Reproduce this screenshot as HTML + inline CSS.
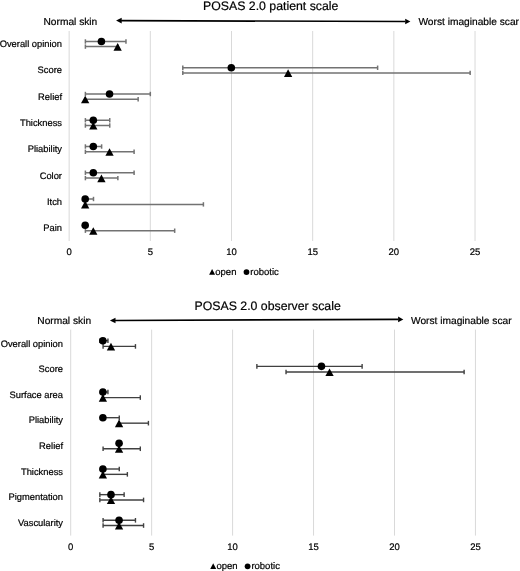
<!DOCTYPE html>
<html><head><meta charset="utf-8"><style>
html,body{margin:0;padding:0;background:#fff;}
body{width:520px;height:571px;overflow:hidden;}
svg{display:block;}
svg{will-change:transform;filter:blur(0.35px);}
text{font-family:"Liberation Sans",sans-serif;fill:#000;stroke:#000;stroke-width:0.2px;text-rendering:geometricPrecision;}
.ti{font-size:12.3px;}
.en{font-size:10.2px;}
.lab{font-size:9.35px;}
.ax{font-size:9.5px;}
.lg{font-size:9.5px;}
</style></head><body>
<svg width="520" height="571" viewBox="0 0 520 571">
<rect width="520" height="571" fill="#fff"/>
<line x1="69.15" y1="31" x2="69.15" y2="241" stroke="#d9d9d9" stroke-width="1"/>
<text x="69.15" y="255.3" text-anchor="middle" class="ax">0</text>
<line x1="150.32" y1="31" x2="150.32" y2="241" stroke="#d9d9d9" stroke-width="1"/>
<text x="150.32" y="255.3" text-anchor="middle" class="ax">5</text>
<line x1="231.50" y1="31" x2="231.50" y2="241" stroke="#d9d9d9" stroke-width="1"/>
<text x="231.50" y="255.3" text-anchor="middle" class="ax">10</text>
<line x1="312.67" y1="31" x2="312.67" y2="241" stroke="#d9d9d9" stroke-width="1"/>
<text x="312.67" y="255.3" text-anchor="middle" class="ax">15</text>
<line x1="393.85" y1="31" x2="393.85" y2="241" stroke="#d9d9d9" stroke-width="1"/>
<text x="393.85" y="255.3" text-anchor="middle" class="ax">20</text>
<line x1="475.02" y1="31" x2="475.02" y2="241" stroke="#d9d9d9" stroke-width="1"/>
<text x="475.02" y="255.3" text-anchor="middle" class="ax">25</text>
<text x="203" y="9.6" class="ti">POSAS 2.0 patient scale</text>
<line x1="121.1" y1="20.6" x2="405.4" y2="21.5" stroke="#000" stroke-width="1.7"/>
<path d="M116.1,20.6 l5.6,-2.8 l0,5.6 z" fill="#000"/>
<path d="M410.4,21.5 l-5.2,-2.8 l0,5.6 z" fill="#000"/>
<text x="43.5" y="24.6" class="en">Normal skin</text>
<text x="418.4" y="25.0" class="en">Worst imaginable scar</text>
<text x="62.0" y="47.10" text-anchor="end" class="lab">Overall opinion</text>
<line x1="85.39" y1="41.50" x2="125.97" y2="41.50" stroke="#727272" stroke-width="1.5"/>
<line x1="85.39" y1="39.30" x2="85.39" y2="43.70" stroke="#727272" stroke-width="1.5"/>
<line x1="125.97" y1="39.30" x2="125.97" y2="43.70" stroke="#727272" stroke-width="1.5"/>
<line x1="85.39" y1="46.60" x2="117.86" y2="46.60" stroke="#727272" stroke-width="1.5"/>
<line x1="85.39" y1="44.40" x2="85.39" y2="48.80" stroke="#727272" stroke-width="1.5"/>
<line x1="117.86" y1="44.40" x2="117.86" y2="48.80" stroke="#727272" stroke-width="1.5"/>
<circle cx="101.42" cy="41.50" r="3.8" fill="#000"/>
<path d="M117.66,43.05 L121.81,50.65 L113.50,50.65 Z" fill="#000"/>
<text x="62.0" y="73.40" text-anchor="end" class="lab">Score</text>
<line x1="182.80" y1="67.75" x2="377.62" y2="67.75" stroke="#727272" stroke-width="1.5"/>
<line x1="182.80" y1="65.55" x2="182.80" y2="69.95" stroke="#727272" stroke-width="1.5"/>
<line x1="377.62" y1="65.55" x2="377.62" y2="69.95" stroke="#727272" stroke-width="1.5"/>
<line x1="182.80" y1="72.90" x2="470.15" y2="72.90" stroke="#727272" stroke-width="1.5"/>
<line x1="182.80" y1="70.70" x2="182.80" y2="75.10" stroke="#727272" stroke-width="1.5"/>
<line x1="470.15" y1="70.70" x2="470.15" y2="75.10" stroke="#727272" stroke-width="1.5"/>
<circle cx="231.30" cy="67.75" r="3.8" fill="#000"/>
<path d="M288.12,69.35 L292.27,76.95 L283.97,76.95 Z" fill="#000"/>
<text x="62.0" y="99.70" text-anchor="end" class="lab">Relief</text>
<line x1="85.39" y1="94.00" x2="150.32" y2="94.00" stroke="#727272" stroke-width="1.5"/>
<line x1="85.39" y1="91.80" x2="85.39" y2="96.20" stroke="#727272" stroke-width="1.5"/>
<line x1="150.32" y1="91.80" x2="150.32" y2="96.20" stroke="#727272" stroke-width="1.5"/>
<line x1="85.39" y1="99.20" x2="138.15" y2="99.20" stroke="#727272" stroke-width="1.5"/>
<line x1="85.39" y1="97.00" x2="85.39" y2="101.40" stroke="#727272" stroke-width="1.5"/>
<line x1="138.15" y1="97.00" x2="138.15" y2="101.40" stroke="#727272" stroke-width="1.5"/>
<circle cx="109.54" cy="94.00" r="3.8" fill="#000"/>
<path d="M85.19,95.65 L89.34,103.25 L81.03,103.25 Z" fill="#000"/>
<text x="62.0" y="126.00" text-anchor="end" class="lab">Thickness</text>
<line x1="85.39" y1="120.25" x2="109.74" y2="120.25" stroke="#727272" stroke-width="1.5"/>
<line x1="85.39" y1="118.05" x2="85.39" y2="122.45" stroke="#727272" stroke-width="1.5"/>
<line x1="109.74" y1="118.05" x2="109.74" y2="122.45" stroke="#727272" stroke-width="1.5"/>
<line x1="85.39" y1="125.50" x2="109.74" y2="125.50" stroke="#727272" stroke-width="1.5"/>
<line x1="85.39" y1="123.30" x2="85.39" y2="127.70" stroke="#727272" stroke-width="1.5"/>
<line x1="109.74" y1="123.30" x2="109.74" y2="127.70" stroke="#727272" stroke-width="1.5"/>
<circle cx="93.30" cy="120.25" r="3.8" fill="#000"/>
<path d="M93.30,121.95 L97.45,129.55 L89.15,129.55 Z" fill="#000"/>
<text x="62.0" y="152.30" text-anchor="end" class="lab">Pliability</text>
<line x1="85.39" y1="146.50" x2="101.62" y2="146.50" stroke="#727272" stroke-width="1.5"/>
<line x1="85.39" y1="144.30" x2="85.39" y2="148.70" stroke="#727272" stroke-width="1.5"/>
<line x1="101.62" y1="144.30" x2="101.62" y2="148.70" stroke="#727272" stroke-width="1.5"/>
<line x1="85.39" y1="151.80" x2="134.09" y2="151.80" stroke="#727272" stroke-width="1.5"/>
<line x1="85.39" y1="149.60" x2="85.39" y2="154.00" stroke="#727272" stroke-width="1.5"/>
<line x1="134.09" y1="149.60" x2="134.09" y2="154.00" stroke="#727272" stroke-width="1.5"/>
<circle cx="93.30" cy="146.50" r="3.8" fill="#000"/>
<path d="M109.54,148.25 L113.69,155.85 L105.39,155.85 Z" fill="#000"/>
<text x="62.0" y="178.60" text-anchor="end" class="lab">Color</text>
<line x1="85.39" y1="172.75" x2="134.09" y2="172.75" stroke="#727272" stroke-width="1.5"/>
<line x1="85.39" y1="170.55" x2="85.39" y2="174.95" stroke="#727272" stroke-width="1.5"/>
<line x1="134.09" y1="170.55" x2="134.09" y2="174.95" stroke="#727272" stroke-width="1.5"/>
<line x1="85.39" y1="178.10" x2="117.86" y2="178.10" stroke="#727272" stroke-width="1.5"/>
<line x1="85.39" y1="175.90" x2="85.39" y2="180.30" stroke="#727272" stroke-width="1.5"/>
<line x1="117.86" y1="175.90" x2="117.86" y2="180.30" stroke="#727272" stroke-width="1.5"/>
<circle cx="93.30" cy="172.75" r="3.8" fill="#000"/>
<path d="M101.42,174.55 L105.57,182.15 L97.27,182.15 Z" fill="#000"/>
<text x="62.0" y="204.90" text-anchor="end" class="lab">Itch</text>
<line x1="85.39" y1="199.00" x2="93.50" y2="199.00" stroke="#727272" stroke-width="1.5"/>
<line x1="85.39" y1="196.80" x2="85.39" y2="201.20" stroke="#727272" stroke-width="1.5"/>
<line x1="93.50" y1="196.80" x2="93.50" y2="201.20" stroke="#727272" stroke-width="1.5"/>
<line x1="85.39" y1="204.40" x2="203.41" y2="204.40" stroke="#727272" stroke-width="1.5"/>
<line x1="85.39" y1="202.20" x2="85.39" y2="206.60" stroke="#727272" stroke-width="1.5"/>
<line x1="203.41" y1="202.20" x2="203.41" y2="206.60" stroke="#727272" stroke-width="1.5"/>
<circle cx="85.19" cy="199.00" r="3.8" fill="#000"/>
<path d="M85.19,200.85 L89.34,208.45 L81.03,208.45 Z" fill="#000"/>
<text x="62.0" y="231.20" text-anchor="end" class="lab">Pain</text>
<line x1="85.39" y1="223.05" x2="85.39" y2="227.45" stroke="#727272" stroke-width="1.5"/>
<line x1="85.39" y1="223.05" x2="85.39" y2="227.45" stroke="#727272" stroke-width="1.5"/>
<line x1="85.39" y1="230.70" x2="174.68" y2="230.70" stroke="#727272" stroke-width="1.5"/>
<line x1="85.39" y1="228.50" x2="85.39" y2="232.90" stroke="#727272" stroke-width="1.5"/>
<line x1="174.68" y1="228.50" x2="174.68" y2="232.90" stroke="#727272" stroke-width="1.5"/>
<circle cx="85.19" cy="225.25" r="3.8" fill="#000"/>
<path d="M93.30,227.15 L97.45,234.75 L89.15,234.75 Z" fill="#000"/>
<path d="M212.10,269.00 L215.10,274.80 L209.10,274.80 Z" fill="#000"/>
<text x="215.3" y="274.6" class="lg">open</text>
<circle cx="246.50" cy="272.10" r="2.9" fill="#000"/>
<text x="250.3" y="274.6" class="lg">robotic</text>
<line x1="70.70" y1="329.6" x2="70.70" y2="535.6" stroke="#d9d9d9" stroke-width="1"/>
<text x="70.70" y="549.8" text-anchor="middle" class="ax">0</text>
<line x1="151.65" y1="329.6" x2="151.65" y2="535.6" stroke="#d9d9d9" stroke-width="1"/>
<text x="151.65" y="549.8" text-anchor="middle" class="ax">5</text>
<line x1="232.60" y1="329.6" x2="232.60" y2="535.6" stroke="#d9d9d9" stroke-width="1"/>
<text x="232.60" y="549.8" text-anchor="middle" class="ax">10</text>
<line x1="313.55" y1="329.6" x2="313.55" y2="535.6" stroke="#d9d9d9" stroke-width="1"/>
<text x="313.55" y="549.8" text-anchor="middle" class="ax">15</text>
<line x1="394.50" y1="329.6" x2="394.50" y2="535.6" stroke="#d9d9d9" stroke-width="1"/>
<text x="394.50" y="549.8" text-anchor="middle" class="ax">20</text>
<line x1="475.45" y1="329.6" x2="475.45" y2="535.6" stroke="#d9d9d9" stroke-width="1"/>
<text x="475.45" y="549.8" text-anchor="middle" class="ax">25</text>
<text x="194.5" y="309.9" class="ti">POSAS 2.0 observer scale</text>
<line x1="114.9" y1="320.5" x2="398.3" y2="319.4" stroke="#000" stroke-width="1.7"/>
<path d="M109.9,320.5 l5.6,-2.8 l0,5.6 z" fill="#000"/>
<path d="M403.3,319.4 l-5.2,-2.8 l0,5.6 z" fill="#000"/>
<text x="37.3" y="323.8" class="en">Normal skin</text>
<text x="411" y="323.9" class="en">Worst imaginable scar</text>
<text x="63.0" y="346.60" text-anchor="end" class="lab">Overall opinion</text>
<line x1="99.84" y1="340.70" x2="107.94" y2="340.70" stroke="#404040" stroke-width="1.4"/>
<line x1="99.84" y1="338.40" x2="99.84" y2="343.00" stroke="#404040" stroke-width="1.4"/>
<line x1="107.94" y1="338.40" x2="107.94" y2="343.00" stroke="#404040" stroke-width="1.4"/>
<line x1="103.08" y1="346.40" x2="135.46" y2="346.40" stroke="#404040" stroke-width="1.4"/>
<line x1="103.08" y1="344.10" x2="103.08" y2="348.70" stroke="#404040" stroke-width="1.4"/>
<line x1="135.46" y1="344.10" x2="135.46" y2="348.70" stroke="#404040" stroke-width="1.4"/>
<circle cx="102.88" cy="340.70" r="3.8" fill="#000"/>
<path d="M110.98,342.85 L115.13,350.45 L106.83,350.45 Z" fill="#000"/>
<text x="63.0" y="372.23" text-anchor="end" class="lab">Score</text>
<line x1="256.88" y1="366.36" x2="362.12" y2="366.36" stroke="#404040" stroke-width="1.4"/>
<line x1="256.88" y1="364.06" x2="256.88" y2="368.66" stroke="#404040" stroke-width="1.4"/>
<line x1="362.12" y1="364.06" x2="362.12" y2="368.66" stroke="#404040" stroke-width="1.4"/>
<line x1="286.03" y1="371.99" x2="464.12" y2="371.99" stroke="#404040" stroke-width="1.4"/>
<line x1="286.03" y1="369.69" x2="286.03" y2="374.29" stroke="#404040" stroke-width="1.4"/>
<line x1="464.12" y1="369.69" x2="464.12" y2="374.29" stroke="#404040" stroke-width="1.4"/>
<circle cx="321.45" cy="366.36" r="3.8" fill="#000"/>
<path d="M329.54,368.44 L333.69,376.04 L325.39,376.04 Z" fill="#000"/>
<text x="63.0" y="397.86" text-anchor="end" class="lab">Surface area</text>
<line x1="103.08" y1="392.02" x2="107.94" y2="392.02" stroke="#404040" stroke-width="1.4"/>
<line x1="103.08" y1="389.72" x2="103.08" y2="394.32" stroke="#404040" stroke-width="1.4"/>
<line x1="107.94" y1="389.72" x2="107.94" y2="394.32" stroke="#404040" stroke-width="1.4"/>
<line x1="103.08" y1="397.58" x2="140.32" y2="397.58" stroke="#404040" stroke-width="1.4"/>
<line x1="103.08" y1="395.28" x2="103.08" y2="399.88" stroke="#404040" stroke-width="1.4"/>
<line x1="140.32" y1="395.28" x2="140.32" y2="399.88" stroke="#404040" stroke-width="1.4"/>
<circle cx="102.88" cy="392.02" r="3.8" fill="#000"/>
<path d="M102.88,394.03 L107.03,401.63 L98.73,401.63 Z" fill="#000"/>
<text x="63.0" y="423.49" text-anchor="end" class="lab">Pliability</text>
<line x1="103.08" y1="417.68" x2="119.27" y2="417.68" stroke="#404040" stroke-width="1.4"/>
<line x1="103.08" y1="415.38" x2="103.08" y2="419.98" stroke="#404040" stroke-width="1.4"/>
<line x1="119.27" y1="415.38" x2="119.27" y2="419.98" stroke="#404040" stroke-width="1.4"/>
<line x1="119.27" y1="423.17" x2="148.41" y2="423.17" stroke="#404040" stroke-width="1.4"/>
<line x1="119.27" y1="420.87" x2="119.27" y2="425.47" stroke="#404040" stroke-width="1.4"/>
<line x1="148.41" y1="420.87" x2="148.41" y2="425.47" stroke="#404040" stroke-width="1.4"/>
<circle cx="102.88" cy="417.68" r="3.8" fill="#000"/>
<path d="M119.07,419.62 L123.22,427.22 L114.92,427.22 Z" fill="#000"/>
<text x="63.0" y="449.12" text-anchor="end" class="lab">Relief</text>
<line x1="119.27" y1="441.04" x2="119.27" y2="445.64" stroke="#404040" stroke-width="1.4"/>
<line x1="119.27" y1="441.04" x2="119.27" y2="445.64" stroke="#404040" stroke-width="1.4"/>
<line x1="103.08" y1="448.76" x2="140.32" y2="448.76" stroke="#404040" stroke-width="1.4"/>
<line x1="103.08" y1="446.46" x2="103.08" y2="451.06" stroke="#404040" stroke-width="1.4"/>
<line x1="140.32" y1="446.46" x2="140.32" y2="451.06" stroke="#404040" stroke-width="1.4"/>
<circle cx="119.07" cy="443.34" r="3.8" fill="#000"/>
<path d="M119.07,445.21 L123.22,452.81 L114.92,452.81 Z" fill="#000"/>
<text x="63.0" y="474.75" text-anchor="end" class="lab">Thickness</text>
<line x1="103.08" y1="469.00" x2="119.27" y2="469.00" stroke="#404040" stroke-width="1.4"/>
<line x1="103.08" y1="466.70" x2="103.08" y2="471.30" stroke="#404040" stroke-width="1.4"/>
<line x1="119.27" y1="466.70" x2="119.27" y2="471.30" stroke="#404040" stroke-width="1.4"/>
<line x1="103.08" y1="474.35" x2="127.37" y2="474.35" stroke="#404040" stroke-width="1.4"/>
<line x1="103.08" y1="472.05" x2="103.08" y2="476.65" stroke="#404040" stroke-width="1.4"/>
<line x1="127.37" y1="472.05" x2="127.37" y2="476.65" stroke="#404040" stroke-width="1.4"/>
<circle cx="102.88" cy="469.00" r="3.8" fill="#000"/>
<path d="M102.88,470.80 L107.03,478.40 L98.73,478.40 Z" fill="#000"/>
<text x="63.0" y="500.38" text-anchor="end" class="lab">Pigmentation</text>
<line x1="99.84" y1="494.66" x2="124.13" y2="494.66" stroke="#404040" stroke-width="1.4"/>
<line x1="99.84" y1="492.36" x2="99.84" y2="496.96" stroke="#404040" stroke-width="1.4"/>
<line x1="124.13" y1="492.36" x2="124.13" y2="496.96" stroke="#404040" stroke-width="1.4"/>
<line x1="99.84" y1="499.94" x2="143.56" y2="499.94" stroke="#404040" stroke-width="1.4"/>
<line x1="99.84" y1="497.64" x2="99.84" y2="502.24" stroke="#404040" stroke-width="1.4"/>
<line x1="143.56" y1="497.64" x2="143.56" y2="502.24" stroke="#404040" stroke-width="1.4"/>
<circle cx="110.98" cy="494.66" r="3.8" fill="#000"/>
<path d="M110.98,496.39 L115.13,503.99 L106.83,503.99 Z" fill="#000"/>
<text x="63.0" y="526.01" text-anchor="end" class="lab">Vascularity</text>
<line x1="103.08" y1="520.32" x2="135.46" y2="520.32" stroke="#404040" stroke-width="1.4"/>
<line x1="103.08" y1="518.02" x2="103.08" y2="522.62" stroke="#404040" stroke-width="1.4"/>
<line x1="135.46" y1="518.02" x2="135.46" y2="522.62" stroke="#404040" stroke-width="1.4"/>
<line x1="103.08" y1="525.53" x2="143.56" y2="525.53" stroke="#404040" stroke-width="1.4"/>
<line x1="103.08" y1="523.23" x2="103.08" y2="527.83" stroke="#404040" stroke-width="1.4"/>
<line x1="143.56" y1="523.23" x2="143.56" y2="527.83" stroke="#404040" stroke-width="1.4"/>
<circle cx="119.07" cy="520.32" r="3.8" fill="#000"/>
<path d="M119.07,521.98 L123.22,529.58 L114.92,529.58 Z" fill="#000"/>
<path d="M213.20,563.20 L216.20,569.00 L210.20,569.00 Z" fill="#000"/>
<text x="216.4" y="568.8" class="lg">open</text>
<circle cx="247.60" cy="566.30" r="2.9" fill="#000"/>
<text x="251.4" y="568.8" class="lg">robotic</text>
</svg>
</body></html>
